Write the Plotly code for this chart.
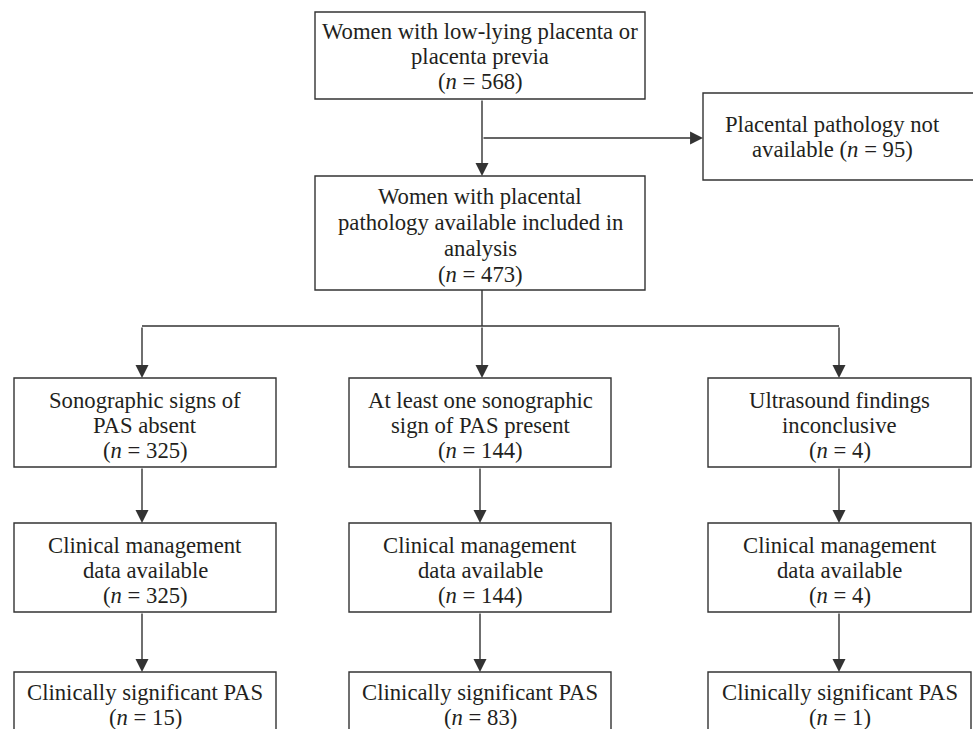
import plotly.graph_objects as go

# ---- data (text content of the flowchart) ----
top_lines = ["Women with low-lying placenta or", "placenta previa", "(<i>n</i> = 568)"]
excluded_lines = ["Placental pathology not", "available (<i>n</i> = 95)"]
included_lines = ["Women with placental", "pathology available included in", "analysis", "(<i>n</i> = 473)"]
group_labels = [["Sonographic signs of", "PAS absent"],
                ["At least one sonographic", "sign of PAS present"],
                ["Ultrasound findings", "inconclusive"]]
group_n = [325, 144, 4]
clinical_label = ["Clinical management", "data available"]
clinical_n = [325, 144, 4]
significant_label = ["Clinically significant PAS"]
significant_n = [15, 83, 1]

# ---- layout geometry (pixel coordinates, y down) ----
W, H = 973, 729
FONT = "Liberation Serif"
FS = 22.7
LINE_H = 25
TXT = "#231f20"
LC = "#333333"

boxes = {
    "top": (315, 12, 645, 99),
    "excl": (703, 93, 990, 180),
    "incl": (315, 176, 645, 290),
}
col_x = [(14, 276), (349, 611), (708, 971)]
row1_y = (378, 467)
row2_y = (523, 612)
row3_y = (672, 760)

shapes = []
annotations = []


def box(x0, y0, x1, y1):
    shapes.append(dict(type="rect", xref="x", yref="y", x0=x0, y0=y0, x1=x1, y1=y1,
                       line=dict(color=LC, width=1.4), fillcolor="rgba(0,0,0,0)"))


def text_lines(lines, cx, cy, lh=LINE_H):
    n = len(lines)
    for i, t in enumerate(lines):
        y = cy + (i - (n - 1) / 2) * lh
        annotations.append(dict(x=cx, y=y, xref="x", yref="y", text=t, showarrow=False,
                                font=dict(family=FONT, size=FS, color=TXT),
                                xanchor="center", yanchor="middle"))


def line(x0, y0, x1, y1):
    shapes.append(dict(type="line", xref="x", yref="y", x0=x0, y0=y0, x1=x1, y1=y1,
                       line=dict(color=LC, width=1.4)))


def arrow(x0, y0, x1, y1):
    annotations.append(dict(x=x1, y=y1, ax=x0, ay=y0, xref="x", yref="y", axref="x", ayref="y",
                            text="", showarrow=True, arrowhead=2, arrowsize=1.85,
                            arrowwidth=1.4, arrowcolor=LC, standoff=0, startstandoff=0))


# top box
b = boxes["top"]; box(*b)
text_lines(top_lines, (b[0] + b[2]) / 2, 56)
# excluded
b = boxes["excl"]; box(*b)
text_lines(excluded_lines, 832, 137)
# included
b = boxes["incl"]; box(*b)
text_lines(included_lines, (b[0] + b[2]) / 2, 235, lh=26)

# connectors top
arrow(482, 99, 482, 176)
arrow(482, 138, 703, 138)
line(482, 290, 482, 326)
line(142, 326, 839, 326)

mids = [142, 480, 839]
branch_x = [142, 482, 839]
for i, (x0, x1) in enumerate(col_x):
    cx = (x0 + x1) / 2
    arrow(branch_x[i], 326, branch_x[i], row1_y[0])
    box(x0, row1_y[0], x1, row1_y[1])
    text_lines(group_labels[i] + [f"(<i>n</i> = {group_n[i]})"], cx, 425)
    arrow(mids[i], row1_y[1], mids[i], row2_y[0])
    box(x0, row2_y[0], x1, row2_y[1])
    text_lines(clinical_label + [f"(<i>n</i> = {clinical_n[i]})"], cx, 570)
    arrow(mids[i], row2_y[1], mids[i], row3_y[0])
    box(x0, row3_y[0], x1, row3_y[1])
    text_lines(significant_label + [f"(<i>n</i> = {significant_n[i]})"], cx, 705)

fig = go.Figure()
fig.update_layout(
    width=W, height=H,
    margin=dict(l=0, r=0, t=0, b=0),
    paper_bgcolor="white", plot_bgcolor="white",
    xaxis=dict(range=[0, W], visible=False, fixedrange=True),
    yaxis=dict(range=[H, 0], visible=False, fixedrange=True),
    shapes=shapes, annotations=annotations, showlegend=False,
)
fig.write_html("out.html", config={"displayModeBar": False},
               post_script="document.body.style.margin='0';document.body.style.overflow='hidden';")
